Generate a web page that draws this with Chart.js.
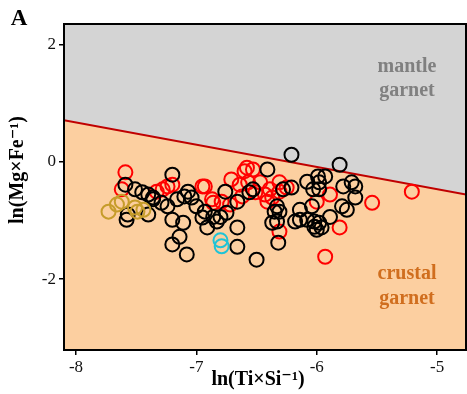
<!DOCTYPE html>
<html>
<head>
<meta charset="utf-8">
<script src="https://cdn.jsdelivr.net/npm/chart.js@4.4.1/dist/chart.umd.min.js"></script>
<style>
  html, body { margin: 0; padding: 0; background: #fff; }
  #wrap { width: 467px; height: 394px; }
</style>
</head>
<body>
<div id="wrap"><canvas id="c" width="467" height="394"></canvas></div>
<script>
// ---- data ----
const xTicks = [-8, -7, -6, -5];
const yTicks = [-2, 0, 2];
const xRange = [-8.1, -4.76];
const yRange = [-3.21, 2.35];

// boundary line between mantle and crustal garnet
const boundaryX = [-8.1, -4.76];
const boundaryY = [0.71, -0.56];

const blackX = [-7.59,-7.51,-7.45,-7.40,-7.36,-7.58,-7.57,-7.40,-7.20,-7.29,-7.24,-7.20,-7.11,-7.14,-7.20,-7.08,-7.16,-7.10,-7.07,-7.04,-7.00,-6.21,-6.41,-6.76,-6.66,-6.93,-6.86,-6.80,-6.75,-6.91,-6.83,-6.66,-6.66,-6.50,-6.35,-6.33,-6.37,-6.32,-6.28,-6.21,-6.18,-6.14,-6.14,-6.08,-6.03,-6.08,-6.02,-6.00,-5.99,-6.53,-6.56,-6.31,-6.33,-5.81,-5.93,-5.98,-5.98,-5.78,-5.71,-5.68,-5.68,-5.79,-5.75,-5.89,-5.98,-5.96,-6.02,-6.04,-7.36,-6.95];
const blackY = [-0.39,-0.47,-0.52,-0.56,-0.64,-0.99,-0.90,-0.90,-0.22,-0.70,-0.76,-0.99,-1.04,-1.28,-1.41,-1.58,-0.64,-0.59,-0.51,-0.61,-0.76,0.12,-0.13,-0.51,-0.68,-0.85,-0.94,-0.94,-0.87,-1.12,-1.02,-1.12,-1.45,-1.67,-0.85,-1.02,-1.04,-1.38,-0.47,-0.44,-1.02,-0.99,-0.82,-0.34,-0.47,-0.99,-1.02,-1.16,-0.25,-0.47,-0.52,-0.85,-0.76,-0.05,-0.25,-0.35,-0.47,-0.42,-0.35,-0.42,-0.61,-0.76,-0.82,-0.94,-1.04,-1.12,-1.11,-0.76,-0.61,-0.95];

const redX = [-7.59,-7.28,-7.24,-7.20,-7.33,-6.95,-6.58,-6.53,-6.71,-6.64,-6.57,-6.47,-6.93,-6.87,-6.86,-6.72,-6.62,-6.51,-6.43,-6.37,-6.31,-6.25,-6.31,-6.41,-6.31,-6.00,-5.93,-5.89,-5.54,-5.21,-5.81,-6.79,-6.60,-6.39,-7.62];
const redY = [-0.18,-0.47,-0.42,-0.39,-0.51,-0.42,-0.10,-0.13,-0.30,-0.39,-0.35,-0.35,-0.42,-0.64,-0.70,-0.73,-0.59,-0.52,-0.56,-0.61,-0.35,-0.44,-0.51,-0.68,-1.19,-0.68,-1.62,-0.56,-0.70,-0.51,-1.12,-0.68,-0.16,-0.47,-0.47];

const goldX = [-7.73,-7.66,-7.62,-7.51,-7.44,-7.49];
const goldY = [-0.85,-0.73,-0.68,-0.78,-0.82,-0.85];

const cyanX = [-6.80,-6.79];
const cyanY = [-1.34,-1.44];

const xTitle = 'ln(Ti×Si⁻¹)';
const yTitle = 'ln(Mg×Fe⁻¹)';
const panelLabel = 'A';
const mantleLabel = ['mantle', 'garnet'];
const crustLabel = ['crustal', 'garnet'];

// ---- build chart ----
const pts = (xs, ys) => xs.map((x, i) => ({x, y: ys[i]}));
const SERIF = '"Liberation Serif", "Times New Roman", "DejaVu Serif", serif';

const decor = {
  id: 'decor',
  beforeDraw(chart) {
    const {ctx, chartArea: a} = chart;
    ctx.save();
    ctx.fillStyle = '#d4d4d4';
    ctx.fillRect(a.left, a.top, a.right - a.left, a.bottom - a.top);
    ctx.restore();
  },
  afterDraw(chart) {
    const {ctx, chartArea: a} = chart;
    ctx.save();
    ctx.strokeStyle = '#000';
    ctx.lineWidth = 2;
    ctx.strokeRect(a.left, a.top, a.right - a.left, a.bottom - a.top);
    ctx.fillStyle = '#000';
    ctx.textAlign = 'center';
    ctx.textBaseline = 'alphabetic';
    ctx.font = 'bold 23px ' + SERIF;
    ctx.fillText(panelLabel, 19, 25);
    // axis titles
    ctx.font = 'bold 20px ' + SERIF;
    ctx.textBaseline = 'middle';
    ctx.fillText(xTitle, 258, 380);
    ctx.save();
    ctx.translate(18, 170);
    ctx.rotate(-Math.PI / 2);
    ctx.fillText(yTitle, 0, 0);
    ctx.restore();
    // region labels
    ctx.textBaseline = 'alphabetic';
    ctx.fillStyle = '#808080';
    ctx.fillText(mantleLabel[0], 407, 72);
    ctx.fillText(mantleLabel[1], 407, 96);
    ctx.fillStyle = '#d06e1e';
    ctx.fillText(crustLabel[0], 407, 279);
    ctx.fillText(crustLabel[1], 407, 304);
    ctx.restore();
  }
};

const scatterBase = {type: 'scatter', pointRadius: 7, pointHoverRadius: 7, borderWidth: 2, backgroundColor: 'rgba(0,0,0,0)', pointStyle: 'circle'};

new Chart(document.getElementById('c'), {
  data: {
    datasets: [
      Object.assign({}, scatterBase, {label: 'cyan', data: pts(cyanX, cyanY), borderColor: '#1fc3d6', order: 1}),
      Object.assign({}, scatterBase, {label: 'gold', data: pts(goldX, goldY), borderColor: '#c69c2a', order: 2}),
      Object.assign({}, scatterBase, {label: 'black', data: pts(blackX, blackY), borderColor: '#000000', order: 3}),
      Object.assign({}, scatterBase, {label: 'red', data: pts(redX, redY), borderColor: '#ff0000', order: 4}),
      {type: 'line', label: 'boundary', data: pts(boundaryX, boundaryY), borderColor: '#c00000', borderWidth: 2,
       backgroundColor: '#fccfa0', fill: 'start', pointRadius: 0, order: 10}
    ]
  },
  options: {
    responsive: false,
    animation: false,
    events: [],
    layout: {autoPadding: false, padding: {top: 24, right: 1, left: 0, bottom: 0}},
    plugins: {legend: {display: false}, tooltip: {enabled: false}},
    scales: {
      x: {
        type: 'linear', min: xRange[0], max: xRange[1],
        afterBuildTicks: s => { s.ticks = xTicks.map(v => ({value: v})); },
        afterFit: s => { s.height = 44; s.paddingLeft = 0; s.paddingRight = 0; },
        grid: {display: true, drawOnChartArea: false, drawTicks: true, tickLength: 5, color: '#000', lineWidth: 1.5},
        border: {display: true, color: '#000', width: 2},
        ticks: {padding: 2, color: '#111', font: {family: SERIF, size: 17}, maxRotation: 0, callback: v => String(v)},
        title: {display: false}
      },
      y: {
        type: 'linear', min: yRange[0], max: yRange[1],
        afterBuildTicks: s => { s.ticks = yTicks.map(v => ({value: v})); },
        afterFit: s => { s.width = 64; s.paddingTop = 0; s.paddingBottom = 0; },
        grid: {display: true, drawOnChartArea: false, drawTicks: true, tickLength: 5, color: '#000', lineWidth: 1.5},
        border: {display: true, color: '#000', width: 2},
        ticks: {padding: 3, color: '#111', font: {family: SERIF, size: 17}, callback: v => String(v)},
        title: {display: false}
      }
    }
  },
  plugins: [decor]
});
</script>
</body>
</html>
